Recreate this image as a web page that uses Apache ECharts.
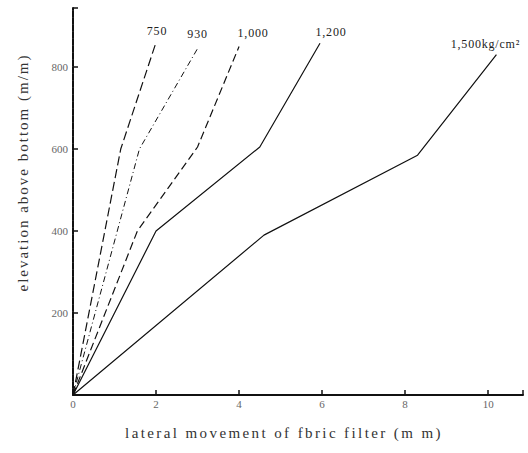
<!DOCTYPE html>
<html><head><meta charset="utf-8">
<script src="https://cdn.jsdelivr.net/npm/echarts@6/dist/echarts.min.js"></script>
<style>html,body{margin:0;padding:0;background:#fff}#c{width:528px;height:453px}
#c text{font-family:"Liberation Serif","DejaVu Serif",serif !important}</style>
</head><body><div id="c"></div>
<script>
const seriesNames = ['750', '930', '1,000', '1,200', '1,500kg/cm²'];
const s750  = [[0,0],[1.15,600],[2.0,860]];
const s930  = [[0,0],[1.6,600],[3.0,845]];
const s1000 = [[0,0],[1.55,400],[3.0,605],[4.0,850]];
const s1200 = [[0,0],[2.0,400],[4.5,605],[5.95,858]];
const s1500 = [[0,0],[4.6,390],[8.3,585],[10.2,830]];
const xTicks = [0,2,4,6,8,10];
const yTicks = [200,400,600,800];
const xTitle = 'lateral movement of fbric filter (m m)';
const yTitle = 'elevation above bottom (m/m)';

const font = 'Liberation Serif';
const styles = [
  {type:[9,4], width:1.2, off:[1,-11]},
  {type:[6,3,1,3], width:1, off:[0,-15]},
  {type:[8,4], width:1.2, off:[14,-14]},
  {type:'solid', width:1.2, off:[11,-11]},
  {type:'solid', width:1.2, off:[-11,-11]}
];
const all = [s750,s930,s1000,s1200,s1500];
const el = document.getElementById('c');
const chart = echarts.init(el, null, {renderer:'svg'});
chart.setOption({
  animation:false,
  textStyle:{fontFamily:font},
  grid:{left:73,right:5,top:8,bottom:58},
  xAxis:{type:'value',min:0,max:10.84,interval:2,
    axisLine:{lineStyle:{color:'#111',width:2}},
    axisTick:{inside:true,length:5,lineStyle:{color:'#111',width:1.5}},
    axisLabel:{color:'#666',fontFamily:font,fontSize:11,margin:3,
      formatter:v=>xTicks.includes(v)?String(v):''},
    splitLine:{show:false},
    name:xTitle,nameLocation:'middle',nameGap:30,
    nameTextStyle:{color:'#333',fontFamily:font,fontSize:15,padding:[0,28,0,0]}},
  yAxis:{type:'value',min:0,max:944,interval:200,
    axisLine:{show:true,lineStyle:{color:'#111',width:2,type:[6,1]}},
    axisTick:{show:true,inside:true,length:5,lineStyle:{color:'#111',width:1.5}},
    axisLabel:{color:'#666',fontFamily:font,fontSize:11,margin:5,
      formatter:v=>yTicks.includes(v)?String(v):''},
    splitLine:{show:false},
    name:yTitle,nameLocation:'middle',nameGap:43,nameRotate:90,
    nameTextStyle:{color:'#333',fontFamily:font,fontSize:15,padding:[0,0,0,58]}},
  series: all.map((d,i)=>({
    type:'line',name:seriesNames[i],data:d,symbol:'none',
    lineStyle:{color:'#111',width:styles[i].width,type:styles[i].type},
    endLabel:{show:true,formatter:seriesNames[i],align:'center',verticalAlign:'middle',
      distance:0,offset:styles[i].off,color:'#222',fontFamily:font,fontSize:12}
  }))
});
function spacing(){
  el.querySelectorAll('text').forEach(t=>{
    const s=t.textContent;
    if(s===xTitle) t.style.letterSpacing='2.4px';
    else if(s===yTitle) t.style.letterSpacing='2px';
    else if(seriesNames.includes(s)) t.style.letterSpacing='0.8px';
  });
}
chart.on('finished',spacing);
new MutationObserver(spacing).observe(el,{childList:true,subtree:true});
spacing();
</script></body></html>
